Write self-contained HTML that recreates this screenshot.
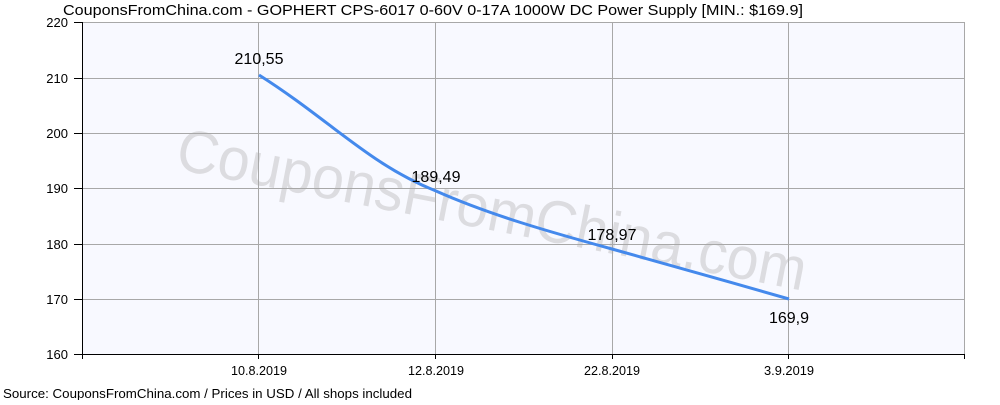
<!DOCTYPE html>
<html><head><meta charset="utf-8"><style>
body{margin:0;background:#fff;}
svg text{font-family:"Liberation Sans",sans-serif;}
</style></head><body>
<svg width="1000" height="400" xmlns="http://www.w3.org/2000/svg">
<rect x="82" y="22" width="883" height="332" fill="#f8f9ff"/>
<text x="492" y="230" font-size="60" fill="#dcdce0" text-anchor="middle" textLength="640" lengthAdjust="spacingAndGlyphs" transform="rotate(11 492 210)">CouponsFromChina.com</text>
<g stroke="#a8a8a8" stroke-width="1">
<line x1="82" y1="22.5" x2="965" y2="22.5"/>
<line x1="82" y1="78.5" x2="965" y2="78.5"/>
<line x1="82" y1="133.5" x2="965" y2="133.5"/>
<line x1="82" y1="188.5" x2="965" y2="188.5"/>
<line x1="82" y1="244.5" x2="965" y2="244.5"/>
<line x1="82" y1="299.5" x2="965" y2="299.5"/>
<line x1="258.5" y1="22" x2="258.5" y2="354"/>
<line x1="435.5" y1="22" x2="435.5" y2="354"/>
<line x1="612.5" y1="22" x2="612.5" y2="354"/>
<line x1="788.5" y1="22" x2="788.5" y2="354"/>
<line x1="964.5" y1="22" x2="964.5" y2="354"/>
</g>
<g stroke="#000" stroke-width="1">
<line x1="82.5" y1="22" x2="82.5" y2="355"/>
<line x1="82" y1="354.5" x2="965" y2="354.5"/>
<line x1="74" y1="22.5" x2="82" y2="22.5"/>
<line x1="74" y1="78.5" x2="82" y2="78.5"/>
<line x1="74" y1="133.5" x2="82" y2="133.5"/>
<line x1="74" y1="188.5" x2="82" y2="188.5"/>
<line x1="74" y1="244.5" x2="82" y2="244.5"/>
<line x1="74" y1="299.5" x2="82" y2="299.5"/>
<line x1="74" y1="354.5" x2="82" y2="354.5"/>
<line x1="82.5" y1="354" x2="82.5" y2="359"/>
<line x1="258.5" y1="354" x2="258.5" y2="359"/>
<line x1="435.5" y1="354" x2="435.5" y2="359"/>
<line x1="612.5" y1="354" x2="612.5" y2="359"/>
<line x1="788.5" y1="354" x2="788.5" y2="359"/>
<line x1="964.5" y1="354" x2="964.5" y2="359"/>
</g>
<g font-size="13" fill="#000" text-anchor="end">
<text x="68" y="27">220</text><text x="68" y="83">210</text><text x="68" y="138">200</text>
<text x="68" y="193">190</text><text x="68" y="249">180</text><text x="68" y="304">170</text><text x="68" y="359">160</text>
</g>
<g font-size="13" fill="#000" text-anchor="middle">
<text x="259" y="375" textLength="56" lengthAdjust="spacingAndGlyphs">10.8.2019</text><text x="436" y="375" textLength="56" lengthAdjust="spacingAndGlyphs">12.8.2019</text>
<text x="612" y="375" textLength="56" lengthAdjust="spacingAndGlyphs">22.8.2019</text><text x="789" y="375" textLength="50" lengthAdjust="spacingAndGlyphs">3.9.2019</text>
</g>
<path d="M259 75 C330 120 370 165 436 191 C490 215 550 232 612 249 C680 268 730 282 789 299" fill="none" stroke="#4489ec" stroke-width="3"/>
<g font-size="16" fill="#000" text-anchor="middle">
<text x="259" y="64">210,55</text><text x="436" y="182">189,49</text>
<text x="612" y="240">178,97</text><text x="789" y="323">169,9</text>
</g>
<text x="63" y="15" font-size="15" fill="#000" textLength="740" lengthAdjust="spacingAndGlyphs">CouponsFromChina.com - GOPHERT CPS-6017 0-60V 0-17A 1000W DC Power Supply [MIN.: $169.9]</text>
<text x="3" y="398" font-size="13" fill="#000" textLength="409" lengthAdjust="spacingAndGlyphs">Source: CouponsFromChina.com / Prices in USD / All shops included</text>
</svg>
</body></html>
